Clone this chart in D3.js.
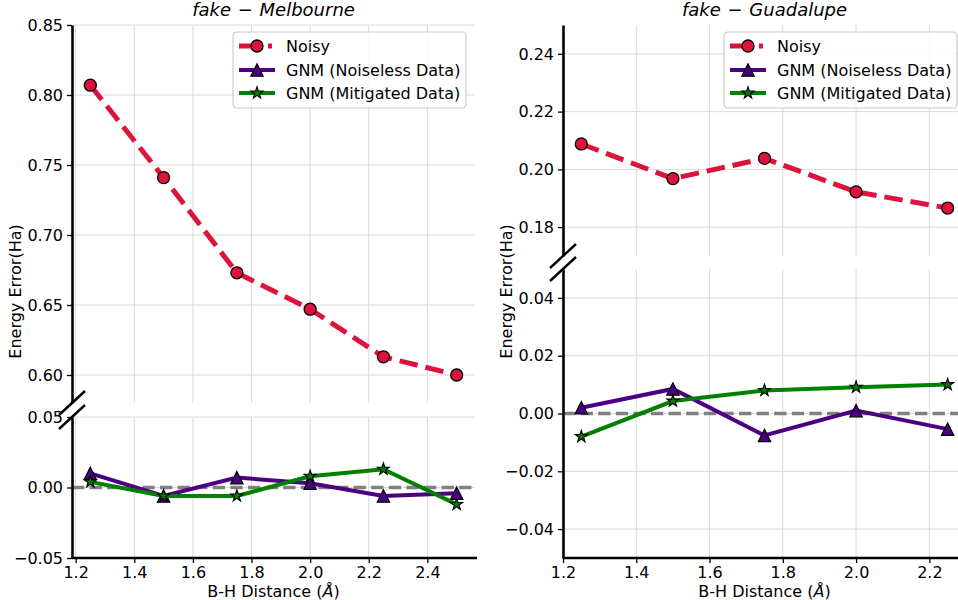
<!DOCTYPE html>
<html>
<head>
<meta charset="utf-8">
<title>GNM energy error</title>
<script src="https://cdn.jsdelivr.net/npm/d3@7"></script>
<style>
  body {
    margin: 0;
    background: #fff;
  }

  svg {
    font-family: "DejaVu Sans", sans-serif;
  }

  .grid line {
    stroke: #dadada;
    stroke-width: 1;
  }

  .tick text {
    font-size: 16px;
    fill: #000;
  }

  .tick line {
    stroke: #000;
    stroke-width: 1.3;
  }
</style>
</head>
<body>
<div id="chart"></div>
<script>

  let width = 958, height = 600;

  // B-H distance (Å)
  let xMelbourne = [1.25, 1.5, 1.75, 2.0, 2.25, 2.5];
  let melbourneNoisy = [0.807, 0.741, 0.673, 0.647, 0.613, 0.600];
  let melbourneNoiseless = [0.010, -0.006, 0.007, 0.003, -0.006, -0.004];
  let melbourneMitigated = [0.004, -0.006, -0.006, 0.008, 0.013, -0.012];

  let xGuadalupe = [1.25, 1.5, 1.75, 2.0, 2.25];
  let guadalupeNoisy = [0.2088, 0.1968, 0.2038, 0.1922, 0.1866];
  let guadalupeNoiseless = [0.002, 0.0085, -0.0076, 0.001, -0.0054];
  let guadalupeMitigated = [-0.008, 0.0043, 0.008, 0.0091, 0.0100];

  // ticks
  let xTicksMelbourne = [1.2, 1.4, 1.6, 1.8, 2.0, 2.2, 2.4];
  let xTicksGuadalupe = [1.2, 1.4, 1.6, 1.8, 2.0, 2.2];
  let yTopTicksMelbourne = [0.60, 0.65, 0.70, 0.75, 0.80, 0.85];
  let yBottomTicksMelbourne = [-0.05, 0.00, 0.05];
  let yTopTicksGuadalupe = [0.18, 0.20, 0.22, 0.24];
  let yBottomTicksGuadalupe = [-0.04, -0.02, 0.00, 0.02, 0.04];

  let seriesNames = ["Noisy", "GNM (Noiseless Data)", "GNM (Mitigated Data)"];
  let seriesColors = ["#dc143c", "#4b0082", "#008000"];

  let svg = d3.select("#chart").append("svg")
    .attr("width", width)
    .attr("height", height);

  // 5 pointed star like matplotlib '*'
  function starPath(R) {
    let r = R * 0.381966, pts = [];
    for (let i = 0; i < 10; i++) {
      let a = -Math.PI / 2 + i * Math.PI / 5;
      let rr = i % 2 ? r : R;
      pts.push([rr * Math.cos(a), rr * Math.sin(a)]);
    }
    return "M" + pts.map(p => p.join(",")).join("L") + "Z";
  }
  let triPath = "M0,-6.2L6.2,6.2L-6.2,6.2Z";

  function drawMarker(g, kind, x, y) {
    if (kind === 0) {
      g.append("circle").attr("cx", x).attr("cy", y).attr("r", 6)
        .attr("fill", seriesColors[0]).attr("stroke", "#000").attr("stroke-width", 1.3);
    } else if (kind === 1) {
      g.append("path").attr("d", triPath).attr("transform", `translate(${x},${y})`)
        .attr("fill", seriesColors[1]).attr("stroke", "#000").attr("stroke-width", 1.2);
    } else {
      g.append("path").attr("d", starPath(6.3)).attr("transform", `translate(${x},${y})`)
        .attr("fill", seriesColors[2]).attr("stroke", "#000").attr("stroke-width", 1.1);
    }
  }

  function drawSeries(g, xs, ys, kind, x, y) {
    let line = d3.line().x((d, i) => x(xs[i])).y(d => y(d));
    let p = g.append("path")
      .datum(ys)
      .attr("d", line)
      .attr("fill", "none")
      .attr("stroke", seriesColors[kind]);
    if (kind === 0) {
      p.attr("stroke-width", 5).attr("stroke-dasharray", "18.5,8");
    } else {
      p.attr("stroke-width", 4);
    }
    ys.forEach((d, i) => drawMarker(g, kind, x(xs[i]), y(d)));
  }

  function drawPanel(cfg) {
    let x = d3.scaleLinear().domain(cfg.xDomain).range([cfg.left, cfg.right]);
    let yTop = d3.scaleLinear().domain(cfg.topDomain).range([cfg.topY1, cfg.topY0]);
    let yBot = d3.scaleLinear().domain([-0.05, 0.05]).range([cfg.botY1, cfg.botY0]);

    let g = svg.append("g");

    // grids
    [[yTop, cfg.topTicks, cfg.topY0, cfg.topY1], [yBot, cfg.botTicks, cfg.botY0, cfg.botY1]].forEach(([y, ticks, y0, y1]) => {
      let grid = g.append("g").attr("class", "grid");
      grid.selectAll(".v").data(cfg.xTicks).enter().append("line")
        .attr("x1", d => x(d)).attr("x2", d => x(d)).attr("y1", y0).attr("y2", y1);
      grid.selectAll(".h").data(ticks).enter().append("line")
        .attr("x1", cfg.left).attr("x2", cfg.right).attr("y1", d => y(d)).attr("y2", d => y(d));
    });

    // zero reference
    g.append("line")
      .attr("x1", cfg.left).attr("x2", cfg.right)
      .attr("y1", yBot(0)).attr("y2", yBot(0))
      .attr("stroke", "#808080").attr("stroke-width", 3.3).attr("stroke-dasharray", "12.3,5.3");

    drawSeries(g, cfg.xs, cfg.noisy, 0, x, yTop);
    drawSeries(g, cfg.xs, cfg.noiseless, 1, x, yBot);
    drawSeries(g, cfg.xs, cfg.mitigated, 2, x, yBot);

    // axes
    let fmt2 = d3.format(".2f");
    let axTop = g.append("g").attr("transform", `translate(${cfg.left},0)`)
      .call(d3.axisLeft(yTop).tickValues(cfg.topTicks).tickFormat(fmt2).tickSize(5).tickSizeOuter(0).tickPadding(4));
    let axBot = g.append("g").attr("transform", `translate(${cfg.left},0)`)
      .call(d3.axisLeft(yBot).tickValues(cfg.botTicks).tickFormat(fmt2).tickSize(5).tickSizeOuter(0).tickPadding(4));
    let axX = g.append("g").attr("transform", `translate(0,${cfg.botY1})`)
      .call(d3.axisBottom(x).tickValues(cfg.xTicks).tickFormat(d3.format(".1f")).tickSize(5).tickSizeOuter(0).tickPadding(4));
    [axTop, axBot, axX].forEach(a => {
      a.selectAll(".domain").attr("stroke", "#000").attr("stroke-width", 2.6);
      a.selectAll("text").attr("font-family", null).attr("font-size", null);
      a.attr("font-family", null).attr("font-size", null);
    });
    axX.selectAll(".domain").attr("d", `M${cfg.left},0H${cfg.right + 2}`);

    // break marks
    [[cfg.left, cfg.topY1], [cfg.left, cfg.botY0]].forEach(([bx, by]) => {
      g.append("line")
        .attr("x1", bx - 13).attr("y1", by + 12).attr("x2", bx + 13).attr("y2", by - 12)
        .attr("stroke", "#000").attr("stroke-width", 2.4);
    });

    // title
    let tt = g.append("text")
      .attr("x", (cfg.left + cfg.right) / 2).attr("y", 16)
      .attr("text-anchor", "middle")
      .attr("font-size", 18).attr("font-style", "italic");
    tt.append("tspan").text(cfg.title[0]);
    tt.append("tspan").attr("dx", 1).attr("font-style", "normal").text("−");
    tt.append("tspan").attr("dx", 1).text(cfg.title[1]);

    // axis labels
    let xl = g.append("text")
      .attr("x", (cfg.left + cfg.right) / 2).attr("y", 597)
      .attr("text-anchor", "middle").attr("font-size", 16);
    xl.append("tspan").text("B-H Distance (");
    xl.append("tspan").attr("font-style", "italic").text("Å");
    xl.append("tspan").text(")");

    g.append("text")
      .attr("transform", `translate(${cfg.ylabelX},${(cfg.topY0 + cfg.botY1) / 2}) rotate(-90)`)
      .attr("text-anchor", "middle").attr("font-size", 16)
      .text("Energy Error(Ha)");

    // legend
    let lw = 233, lh = 76;
    let lg = g.append("g").attr("transform", `translate(${cfg.right - 9 - lw},${cfg.topY0 + 7})`);
    lg.append("rect").attr("width", lw).attr("height", lh).attr("rx", 4)
      .attr("fill", "#fff").attr("fill-opacity", 0.85)
      .attr("stroke", "#cccccc").attr("stroke-width", 1.2);
    let rowsY = [14, 38, 61];
    seriesNames.forEach((name, k) => {
      let ry = rowsY[k];
      let hl = lg.append("line")
        .attr("x1", 6).attr("x2", 42).attr("y1", ry).attr("y2", ry)
        .attr("stroke", seriesColors[k]);
      if (k === 0) hl.attr("stroke-width", 5).attr("stroke-dasharray", "14,15,4,10");
      else hl.attr("stroke-width", 4);
      drawMarker(lg, k, 24, ry);
      lg.append("text").attr("x", 53).attr("y", ry + 6)
        .attr("font-size", 16).text(name);
    });
  }

  drawPanel({
    title: ["fake ", " Melbourne"],
    xs: xMelbourne, noisy: melbourneNoisy, noiseless: melbourneNoiseless, mitigated: melbourneMitigated,
    xTicks: xTicksMelbourne, topTicks: yTopTicksMelbourne, botTicks: yBottomTicksMelbourne,
    xDomain: [1.1875, 2.5625], topDomain: [0.58, 0.85],
    left: 72, right: 475, topY0: 25, topY1: 403, botY0: 417, botY1: 558, ylabelX: 21
  });

  drawPanel({
    title: ["fake ", " Guadalupe"],
    xs: xGuadalupe, noisy: guadalupeNoisy, noiseless: guadalupeNoiseless, mitigated: guadalupeMitigated,
    xTicks: xTicksGuadalupe, topTicks: yTopTicksGuadalupe, botTicks: yBottomTicksGuadalupe,
    xDomain: [1.2, 2.3], topDomain: [0.17, 0.25],
    left: 563, right: 966, topY0: 25, topY1: 256, botY0: 269, botY1: 558, ylabelX: 512
  });

</script>
</body>
</html>
